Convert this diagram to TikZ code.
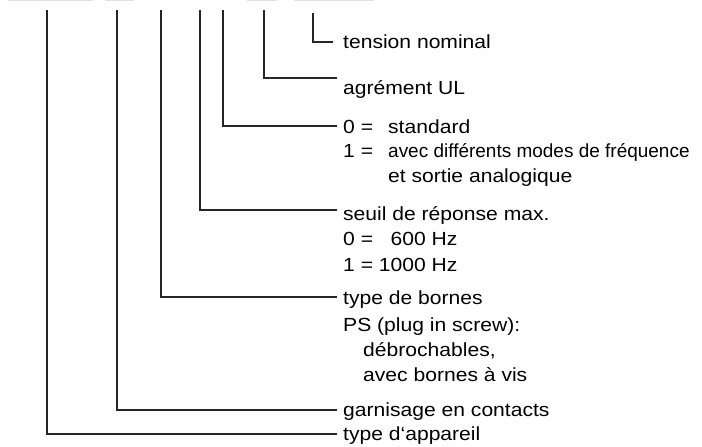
\documentclass[tikz,border=0pt]{standalone}
\usepackage{fontspec}
\setmainfont{Liberation Sans}[FakeStretch=1.11]
\usepackage{graphicx}
\begin{document}
\begin{tikzpicture}[x=1pt,y=-1pt,
  lbl/.style={anchor=base west,inner sep=0pt,font=\fontsize{19}{23}\selectfont},
  lble/.style={anchor=base east,inner sep=0pt,font=\fontsize{19}{23}\selectfont},
  conn/.style={draw=black!85,line width=1.1pt},
  topbar/.style={fill=black!12,draw=none}]
\useasboundingbox (0,0) rectangle (702,447);
% cropped bars at the top
\fill[topbar] (8,0) rectangle (93,1.3);
\fill[topbar] (105,0) rectangle (134,1.3);
\fill[topbar] (247,0) rectangle (277,1.3);
\fill[topbar] (294,0) rectangle (374,1.3);
% tops of the leader lines
\coordinate (tA) at (47,10);
\coordinate (tB) at (117,10);
\coordinate (tC) at (161,10);
\coordinate (tD) at (200,10);
\coordinate (tE) at (223,10);
\coordinate (tF) at (264,10);
\coordinate (tG) at (313,13);
% labels
\node[lbl] (lG) at (343,48) {tension nominal};
\node[lbl] (lF) at (343,94) {agrément UL};
\node[lbl] (lE0) at (343,133) {0 =};
\node[lbl] (lE0t) at (388,133) {standard};
\node[lbl] (lE1) at (343,157) {1 =};
\node[lbl] (lE1t) at (388,157) {\scalebox{0.9}[1]{avec différents modes de fréquence}};
\node[lbl] (lE2) at (388,182) {et sortie analogique};
\node[lbl] (lD) at (343,220) {seuil de réponse max.};
\node[lbl] (lD0) at (343,245) {0 =};
\node[lbl] (lD1) at (343,271) {1 = 1000 Hz};
\node[lble] (lD0v) at (lD1.base east |- lD0.base) {600 Hz};
\node[lbl] (lC) at (343,304) {type de bornes};
\node[lbl] (lC1) at (343,331) {PS (plug in screw):};
\node[lbl] (lC2) at (363,356) {débrochables,};
\node[lbl] (lC3) at (363,381) {avec bornes à vis};
\node[lbl] (lB) at (343,416) {garnisage en contacts};
\node[lbl] (lA) at (343,440) {type d‘appareil};
% connectors
\draw[conn] (tG) |- ([shift={(-10,-6)}]lG.base west);
\draw[conn] (tF) |- ([shift={(-6,-16)}]lF.base west);
\draw[conn] (tE) |- ([shift={(-6,-7)}]lE0.base west);
\draw[conn] (tD) |- ([shift={(-6,-10)}]lD.base west);
\draw[conn] (tC) |- ([shift={(-6,-7)}]lC.base west);
\draw[conn] (tB) |- ([shift={(-6,-6)}]lB.base west);
\draw[conn] (tA) |- ([shift={(-6,-6)}]lA.base west);
\end{tikzpicture}
\end{document}
